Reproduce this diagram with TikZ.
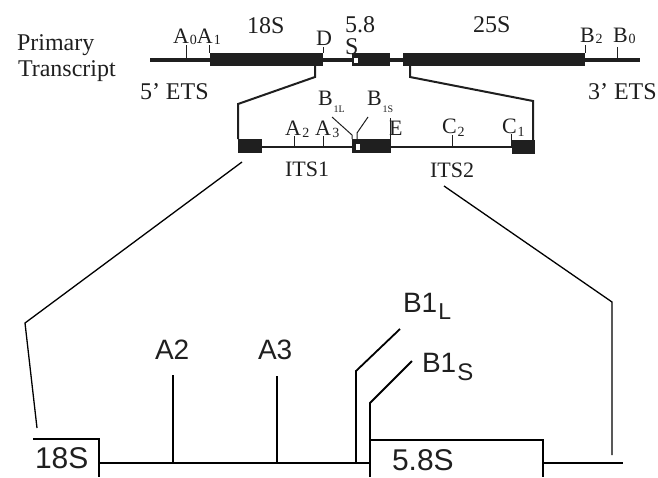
\documentclass[tikz,border=0pt]{standalone}
\usepackage{fontspec}
\setmainfont{Liberation Serif}
\newfontfamily\helv{Liberation Sans}
\definecolor{inkc}{rgb}{0.12,0.12,0.12}
\begin{document}
\begin{tikzpicture}[x=1pt,y=-1pt,
  lbl/.style={anchor=base west, inner sep=0pt, outer sep=0pt, text=inkc},
  serifbig/.style={lbl, font=\fontsize{24}{24}\selectfont},
  serifmid/.style={lbl, font=\fontsize{22}{22}\selectfont},
  sansbig/.style={lbl, font=\helv\fontsize{30}{30}\selectfont},
  sanslab/.style={lbl, font=\helv\fontsize{28}{28}\selectfont},
  rnabox/.style={fill=inkc, draw=none},
  cutmark/.style={fill=white, draw=inkc, line width=0.8pt},
  tickline/.style={draw=inkc, line width=1pt},
  backbone/.style={draw=inkc, line width=3.5pt},
  spacer/.style={draw=inkc, line width=2pt},
  zoomline/.style={draw=inkc, line width=2pt, line join=miter},
  longzoom/.style={draw=black, line width=1.3pt, line join=miter},
  detail/.style={draw=black, line width=1.8pt, line join=miter, line cap=butt}]
\useasboundingbox (0,0) rectangle (658,477);

% ---------- primary transcript ----------
\node[serifbig] (primary) at (17,50) {Primary};
\node[serifbig] (transcript) at (18,76) {Transcript};
\node[serifbig] (ets5) at (140,99) {5' ETS};
\node[serifbig] (ets3) at (588,99) {3' ETS};
\node[serifbig] (l18) at (247,33) {18S};
\node[serifbig] (l58) at (345,32) {5.8};
\node[serifbig] (l58s) at (345,54) {S};
\node[serifbig] (l25) at (473,32) {25S};
\node[serifmid] (lA0) at (173,43) {A\kern1pt\raisebox{-1pt}{\fontsize{14}{14}\selectfont 0}A\kern1pt\raisebox{-1pt}{\fontsize{14}{14}\selectfont 1}};
\node[serifmid] (lD) at (316,45) {D};
\node[serifmid] (lB2) at (580,42) {B\kern1pt\raisebox{-1pt}{\fontsize{14}{14}\selectfont 2}};
\node[serifmid] (lB0) at (613,42) {B\kern1pt\raisebox{-1pt}{\fontsize{14}{14}\selectfont 0}};

\coordinate (pt-l) at (150,60);
\coordinate (pt-r) at (640,60);
\draw[backbone] (pt-l) -- (pt-r);
\fill[rnabox] (210,53) rectangle (323,66);
\fill[rnabox] (352,53) rectangle (390,66);
\draw[cutmark] (353.5,57) rectangle (358,63.5);
\fill[rnabox] (403,53) rectangle (585,66);
\draw[tickline] (186,45) -- (186,58);
\draw[tickline] (209.5,45) -- (209.5,53);
\draw[tickline] (323,47) -- (323,53);
\draw[tickline] (585,45) -- (585,53);
\draw[tickline] (617,47) -- (617,58);

% ---------- ITS region ----------
\coordinate (z18) at (315,66);
\coordinate (z25) at (410,66);
\coordinate (its-l) at (238,139);
\coordinate (its-r) at (533,140);
\draw[zoomline] (z18) -- (315,77) -- (238,104) -- (its-l);
\draw[zoomline] (z25) -- (410,77) -- (533,101) -- (its-r);

\draw[spacer] (262,147) -- (512,147);
\fill[rnabox] (238,139) rectangle (262,153);
\fill[rnabox] (352,139) rectangle (391,153);
\draw[cutmark] (355,143) rectangle (360,150);
\fill[rnabox] (512,140) rectangle (535,154);

\draw[tickline] (294,136) -- (294,147);
\draw[tickline] (323,136) -- (323,147);
\draw[tickline] (390.5,118) -- (390.5,139);
\draw[tickline] (452,135) -- (452,147);
\draw[tickline] (511,134) -- (511,147);
\draw[tickline] (332,117) -- (352,135) -- (352,139);
\draw[tickline] (368,117) -- (357,133) -- (357,139);

\node[serifmid] (lA2) at (285,135) {A\kern1.5pt\raisebox{-2pt}{\fontsize{14}{14}\selectfont 2}};
\node[serifmid] (lA3) at (315,135) {A\kern1.5pt\raisebox{-2pt}{\fontsize{14}{14}\selectfont 3}};
\node[serifmid] (lE) at (389,135) {E};
\node[serifmid] (lC2) at (442,133) {C\kern1pt\raisebox{-3pt}{\fontsize{14}{14}\selectfont 2}};
\node[serifmid] (lC1) at (502,133) {C\kern1pt\raisebox{-3pt}{\fontsize{14}{14}\selectfont 1}};
\node[serifmid] (lB1L) at (318,105) {B\kern1pt\raisebox{-7pt}{\fontsize{10}{10}\selectfont 1L}};
\node[serifmid] (lB1S) at (367,105) {B\kern1pt\raisebox{-7pt}{\fontsize{10}{10}\selectfont 1S}};
\node[serifmid] (its1) at (285,176) {ITS1};
\node[serifmid] (its2) at (430,177) {ITS2};

% ---------- enlarged ITS1 ----------
\coordinate (e-l) at (242,162);
\coordinate (e-r) at (444,186);
\draw[longzoom] (e-l) -- (25,323) -- (37,428);
\draw[longzoom] (e-r) -- (612,302) -- (612,455);

\draw[detail] (33,439) -- (99,439) -- (99,477);
\draw[detail] (99,463) -- (370,463);
\draw[detail] (370,477) -- (370,440) -- (543,440) -- (543,477);
\draw[detail] (543,463) -- (623,463);
\draw[detail] (173,375) -- (173,463);
\draw[detail] (277,376) -- (277,463);
\draw[detail] (400,329) -- (356,371) -- (356,463);
\draw[detail] (412,361) -- (370,403) -- (370,440);

\node[sansbig] (b18) at (35,468) {18S};
\node[sansbig] (b58) at (392,470) {5.8S};
\node[sanslab] (bA2) at (155,359) {A2};
\node[sanslab] (bA3) at (258,359) {A3};
\node[sanslab] (bB1L) at (403,312) {B1\kern1pt\raisebox{-7pt}{\fontsize{23}{23}\selectfont L}};
\node[sanslab] (bB1S) at (422,372) {B1\kern1pt\raisebox{-8pt}{\fontsize{24}{24}\selectfont S}};
\end{tikzpicture}
\end{document}
